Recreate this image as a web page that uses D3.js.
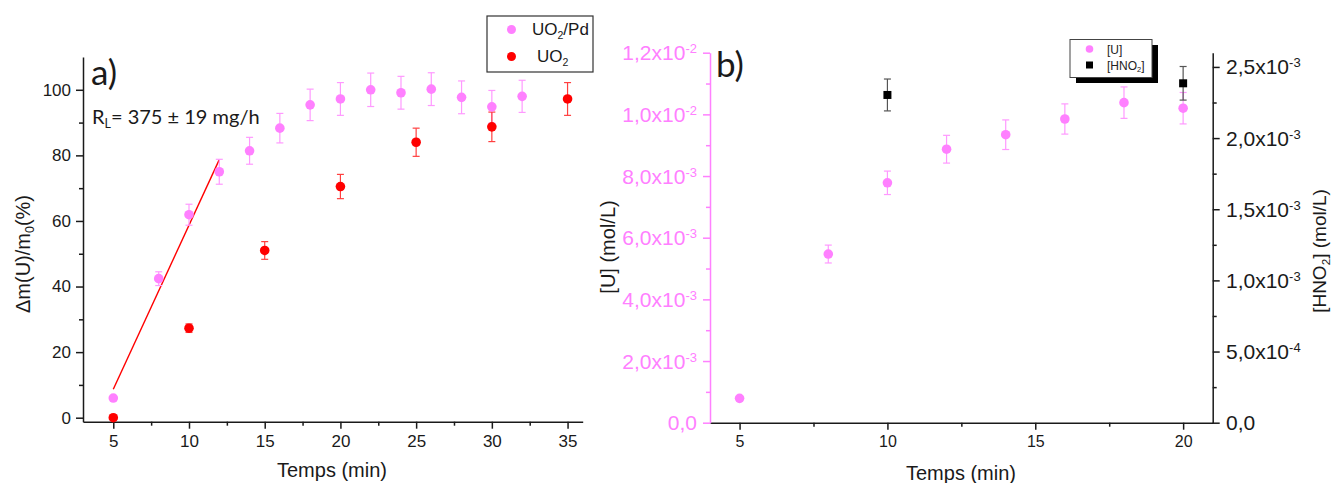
<!DOCTYPE html>
<html><head><meta charset="utf-8">
<script src="https://cdn.jsdelivr.net/npm/d3@7"></script>
<style>body{margin:0;background:#fff}svg{display:block}</style>
</head><body>
<svg id="c" width="1333" height="483"></svg>
<script>
// ---------- Data ----------
const timeA_Pd   = [5, 8, 10, 12, 14, 16, 18, 20, 22, 24, 26, 28, 30, 32];
const dissol_Pd  = [6, 42.4, 61.9, 75, 81.4, 88.3, 95.4, 97.2, 100, 99.1, 100.2, 97.7, 94.8, 98];
const err_Pd     = [0, 2.1, 3.2, 3.8, 4.1, 4.5, 4.8, 5, 5.1, 5, 5, 5, 5, 4.9];
const timeA_UO2  = [5, 10, 15, 20, 25, 30, 35];
const dissol_UO2 = [0, 27.3, 51, 70.5, 84, 88.7, 97.2];
const err_UO2    = [0.3, 1.3, 2.7, 3.7, 4.3, 4.5, 5];
const fitTime    = [5, 12];
const fitDissol  = [8.7, 78.7];
const ticksA_x   = [5, 10, 15, 20, 25, 30, 35];
const ticksA_y   = [0, 20, 40, 60, 80, 100];

const timeB      = [5, 8, 10, 12, 14, 16, 18, 20];
const concU      = [7.9e-4, 5.47e-3, 7.78e-3, 8.87e-3, 9.34e-3, 9.85e-3, 1.038e-2, 1.02e-2];
const errU       = [0, 2.9e-4, 3.8e-4, 4.5e-4, 4.8e-4, 4.9e-4, 5.1e-4, 5.1e-4];
const timeHNO2   = [10, 20];
const concHNO2   = [2.303e-3, 2.385e-3];
const errHNO2    = [1.12e-4, 1.18e-4];
const ticksB_x   = [5, 10, 15, 20];
const ticksB_yL  = [0, 2e-3, 4e-3, 6e-3, 8e-3, 1e-2, 1.2e-2];
const ticksB_yR  = [0, 5e-4, 1e-3, 1.5e-3, 2e-3, 2.5e-3];

// ---------- Styles ----------
const PINK = "#ff80ff", PINK_ERR = "#ff99ff", RED = "#ff0000", RED_ERR = "#ff4040", INK = "#1a1a1a";
const SANS = "'Liberation Sans', Arial, sans-serif";
const CAL = "Lato, 'Open Sans', sans-serif";

const svg = d3.select("#c");

function richText(sel, parts, sz) {
  parts.forEach(([t, m]) => {
    const ts = sel.append("tspan").text(t);
    if (m === "sub") ts.attr("font-size", sz * 0.62).attr("baseline-shift", "-32%");
    else if (m === "sup") ts.attr("font-size", sz * 0.62).attr("baseline-shift", "55%");
  });
  return sel;
}

function sciParts(v) {
  if (v === 0) return [["0,0", "n"]];
  const e = Math.floor(Math.log10(v) + 1e-9);
  const m = v / Math.pow(10, e);
  return [[m.toFixed(1).replace(".", ",") + "x10", "n"], [String(e), "sup"]];
}

function errBars(g, xs, ys, es, x, y, color, cap) {
  xs.forEach((t, i) => {
    if (!es[i]) return;
    const cx = x(t), y1 = y(ys[i] + es[i]), y2 = y(ys[i] - es[i]);
    g.append("line").attr("x1", cx).attr("x2", cx).attr("y1", y1).attr("y2", y2).attr("stroke", color).attr("stroke-width", 1.2);
    [y1, y2].forEach(yy => g.append("line").attr("x1", cx - cap).attr("x2", cx + cap).attr("y1", yy).attr("y2", yy).attr("stroke", color).attr("stroke-width", 1.2));
  });
}

// ================= Panel a =================
const xA = d3.scaleLinear().domain([3, 36]).range([83, 582.7]);
const yA = d3.scaleLinear().domain([-1.22, 110]).range([421.7, 57]);
const gA = svg.append("g");

gA.append("g").attr("transform", `translate(0,${yA.range()[0]})`)
  .call(d3.axisBottom(xA).tickValues(ticksA_x).tickSize(7).tickSizeOuter(0).tickPadding(6).tickFormat(d3.format("d")));
gA.append("g").attr("transform", `translate(0,${yA.range()[0]})`)
  .call(d3.axisBottom(xA).tickValues(d3.range(7.5, 36, 5)).tickSize(4).tickSizeOuter(0).tickFormat(""))
  .select(".domain").remove();
gA.append("g").attr("transform", `translate(${xA.range()[0]},0)`)
  .call(d3.axisLeft(yA).tickValues(ticksA_y).tickSize(7).tickSizeOuter(0).tickPadding(5).tickFormat(d3.format("d")));
gA.append("g").attr("transform", `translate(${xA.range()[0]},0)`)
  .call(d3.axisLeft(yA).tickValues(d3.range(10, 110, 20)).tickSize(4).tickSizeOuter(0).tickFormat(""))
  .select(".domain").remove();
gA.selectAll(".domain, .tick line").attr("stroke", INK).attr("stroke-width", 1.5);
gA.selectAll(".tick text").attr("font-family", SANS).attr("font-size", 17).attr("fill", INK);

gA.append("path").datum(fitTime.map((t, i) => [t, fitDissol[i]]))
  .attr("d", d3.line().x(d => xA(d[0])).y(d => yA(d[1])))
  .attr("stroke", RED).attr("stroke-width", 1.4).attr("fill", "none");

errBars(gA, timeA_Pd, dissol_Pd, err_Pd, xA, yA, PINK_ERR, 3.5);
errBars(gA, timeA_UO2, dissol_UO2, err_UO2, xA, yA, RED_ERR, 3.5);
gA.selectAll(".pd").data(timeA_Pd).enter().append("circle")
  .attr("cx", d => xA(d)).attr("cy", (d, i) => yA(dissol_Pd[i])).attr("r", 4.8).attr("fill", PINK);
gA.selectAll(".uo").data(timeA_UO2).enter().append("circle")
  .attr("cx", d => xA(d)).attr("cy", (d, i) => yA(dissol_UO2[i])).attr("r", 4.8).attr("fill", RED);

gA.append("text").attr("x", 91).attr("y", 85).attr("font-family", CAL).attr("font-size", 35).attr("fill", INK).text("a)");
richText(gA.append("text").attr("x", 92).attr("y", 124).attr("font-family", CAL).attr("font-size", 20).attr("fill", INK),
  [["R", "n"], ["L", "sub"], ["= 375 ± 19 mg/h", "n"]], 20);
richText(gA.append("text").attr("transform", "translate(30,254) rotate(-90)").attr("text-anchor", "middle")
  .attr("font-family", SANS).attr("font-size", 20).attr("fill", INK),
  [["Δm(U)/m", "n"], ["0", "sub"], ["(%)", "n"]], 20);
gA.append("text").attr("x", 332).attr("y", 477).attr("text-anchor", "middle").attr("font-family", SANS).attr("font-size", 20).attr("fill", INK).text("Temps (min)");

gA.append("rect").attr("x", 487).attr("y", 16).attr("width", 106).attr("height", 56).attr("fill", "#fff").attr("stroke", "#333").attr("stroke-width", 1.2);
gA.append("circle").attr("cx", 511.5).attr("cy", 29.5).attr("r", 4.5).attr("fill", PINK);
gA.append("circle").attr("cx", 511.5).attr("cy", 56.5).attr("r", 4.5).attr("fill", RED);
richText(gA.append("text").attr("x", 532).attr("y", 35).attr("font-family", SANS).attr("font-size", 17).attr("fill", INK),
  [["UO", "n"], ["2", "sub"], ["/Pd", "n"]], 17);
richText(gA.append("text").attr("x", 537).attr("y", 62).attr("font-family", SANS).attr("font-size", 17).attr("fill", INK),
  [["UO", "n"], ["2", "sub"]], 17);

// ================= Panel b =================
const xB = d3.scaleLinear().domain([4, 21]).range([710, 1212.7]);
const yBL = d3.scaleLinear().domain([0, 0.012]).range([422.7, 52.7]);
const yBR = d3.scaleLinear().domain([0, 0.0026]).range([422.7, 52.7]);
const gB = svg.append("g");

gB.append("g").attr("class", "bx").attr("transform", `translate(0,${yBL.range()[0]})`)
  .call(d3.axisBottom(xB).tickValues(ticksB_x).tickSize(7).tickSizeOuter(0).tickPadding(6).tickFormat(d3.format("d")));
gB.append("g").attr("class", "bx").attr("transform", `translate(0,${yBL.range()[0]})`)
  .call(d3.axisBottom(xB).tickValues([7.5, 12.5, 17.5]).tickSize(4).tickSizeOuter(0).tickFormat(""))
  .select(".domain").remove();
gB.selectAll(".bx .domain, .bx .tick line").attr("stroke", INK).attr("stroke-width", 1.5);
gB.selectAll(".bx .tick text").attr("font-family", SANS).attr("font-size", 16).attr("fill", INK);

const gL = gB.append("g").attr("transform", `translate(${xB.range()[0]},0)`)
  .call(d3.axisLeft(yBL).tickValues(ticksB_yL).tickSize(7).tickSizeOuter(0).tickFormat(""));
gB.append("g").attr("class", "lm").attr("transform", `translate(${xB.range()[0]},0)`)
  .call(d3.axisLeft(yBL).tickValues(d3.range(1e-3, 0.012, 2e-3)).tickSize(4).tickSizeOuter(0).tickFormat(""))
  .select(".domain").remove();
gL.selectAll(".domain, .tick line").attr("stroke", PINK).attr("stroke-width", 1.5);
gB.selectAll(".lm .tick line").attr("stroke", PINK).attr("stroke-width", 1.5);
ticksB_yL.forEach(v => {
  richText(gB.append("text").attr("x", 697).attr("y", yBL(v) + 7.5).attr("text-anchor", "end")
    .attr("font-family", SANS).attr("font-size", 21).attr("fill", PINK), sciParts(v), 21);
});

const gR = gB.append("g").attr("transform", `translate(${xB.range()[1]},0)`)
  .call(d3.axisRight(yBR).tickValues(ticksB_yR).tickSize(7).tickSizeOuter(0).tickFormat(""));
gB.append("g").attr("class", "rm").attr("transform", `translate(${xB.range()[1]},0)`)
  .call(d3.axisRight(yBR).tickValues(d3.range(2.5e-4, 2.6e-3, 5e-4)).tickSize(4).tickSizeOuter(0).tickFormat(""))
  .select(".domain").remove();
gR.selectAll(".domain, .tick line").attr("stroke", INK).attr("stroke-width", 1.5);
gB.selectAll(".rm .tick line").attr("stroke", INK).attr("stroke-width", 1.5);
ticksB_yR.forEach(v => {
  richText(gB.append("text").attr("x", 1226).attr("y", yBR(v) + 7.5)
    .attr("font-family", SANS).attr("font-size", 21).attr("fill", INK), sciParts(v), 21);
});

errBars(gB, timeB, concU, errU, xB, yBL, PINK_ERR, 3.5);
errBars(gB, timeHNO2, concHNO2, errHNO2, xB, yBR, "#555", 3.5);
gB.selectAll(".u").data(timeB).enter().append("circle")
  .attr("cx", d => xB(d)).attr("cy", (d, i) => yBL(concU[i])).attr("r", 4.8).attr("fill", PINK);
gB.selectAll(".h").data(timeHNO2).enter().append("rect")
  .attr("x", d => xB(d) - 4).attr("y", (d, i) => yBR(concHNO2[i]) - 4).attr("width", 8).attr("height", 8).attr("fill", "#000");

gB.append("text").attr("x", 716).attr("y", 77).attr("font-family", CAL).attr("font-size", 35).attr("fill", INK).text("b)");
gB.append("text").attr("transform", "translate(615,247) rotate(-90)").attr("text-anchor", "middle")
  .attr("font-family", SANS).attr("font-size", 20).attr("fill", INK).text("[U] (mol/L)");
richText(gB.append("text").attr("transform", "translate(1326,251) rotate(-90)").attr("text-anchor", "middle")
  .attr("font-family", SANS).attr("font-size", 19).attr("fill", INK),
  [["[HNO", "n"], ["2", "sub"], ["] (mol/L)", "n"]], 19);
gB.append("text").attr("x", 961).attr("y", 480).attr("text-anchor", "middle").attr("font-family", SANS).attr("font-size", 20).attr("fill", INK).text("Temps (min)");

gB.append("rect").attr("x", 1076).attr("y", 45).attr("width", 82).attr("height", 38).attr("fill", "#000");
gB.append("rect").attr("x", 1070).attr("y", 39.5).attr("width", 82).attr("height", 38).attr("fill", "#fff").attr("stroke", "#444").attr("stroke-width", 1);
gB.append("circle").attr("cx", 1089.5).attr("cy", 49).attr("r", 3.8).attr("fill", PINK);
gB.append("rect").attr("x", 1086).attr("y", 61.5).attr("width", 7).attr("height", 7).attr("fill", "#000");
gB.append("text").attr("x", 1107).attr("y", 53.5).attr("font-family", SANS).attr("font-size", 12).attr("fill", "#222").text("[U]");
richText(gB.append("text").attr("x", 1107).attr("y", 69.5).attr("font-family", SANS).attr("font-size", 12).attr("fill", "#222"),
  [["[HNO", "n"], ["2", "sub"], ["]", "n"]], 12);
</script>
</body></html>
